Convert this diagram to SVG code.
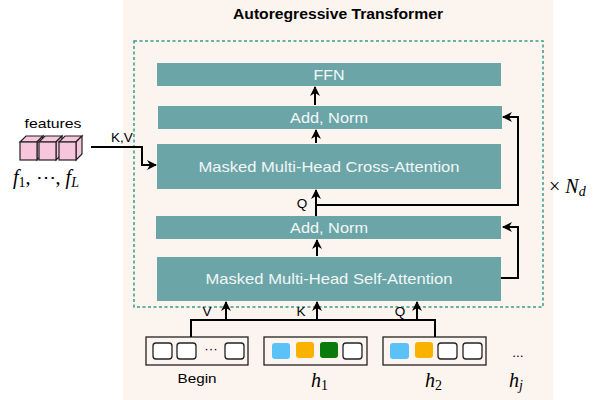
<svg xmlns="http://www.w3.org/2000/svg" width="606" height="400" viewBox="0 0 606 400">
<defs>
<marker id="ah" viewBox="0 0 10 10" refX="9" refY="5" markerWidth="5" markerHeight="5" orient="auto">
<path d="M0,0 L10,5 L0,10 L3,5 Z" fill="#000"/>
</marker>
<style>
.blk{fill:#6ba5a7}
.bt{font-family:"Liberation Sans",Arial,sans-serif;font-size:14.5px;fill:#f2f7f7;text-anchor:middle}
.ln{fill:none;stroke:#000;stroke-width:2}
.lbl{font-family:"Liberation Sans",Arial,sans-serif;font-size:13.5px;fill:#000}
.math{font-family:"Liberation Serif","Times New Roman",serif;font-style:italic;fill:#000}
.tok{fill:none;stroke:#222;stroke-width:1.3}
.sq{fill:#fff;stroke:#222;stroke-width:1.3}
.cube{fill:#f7c6dc;stroke:#222;stroke-width:1.2}
</style>
</defs>
<rect x="0" y="0" width="606" height="400" fill="#fff"/>
<rect x="123" y="0" width="430" height="400" fill="#fcf4ee"/>
<text x="338" y="19" font-family="Liberation Sans,Arial,sans-serif" font-size="14" font-weight="bold" text-anchor="middle" textLength="210" lengthAdjust="spacingAndGlyphs">Autoregressive Transformer</text>
<rect x="134" y="41" width="409" height="266" fill="none" stroke="#3a9a8c" stroke-width="1.5" stroke-dasharray="3,2.5"/>

<g id="ffn"><rect class="blk" x="157" y="63" width="344" height="23"/><text class="bt" x="329" y="80" textLength="31" lengthAdjust="spacingAndGlyphs">FFN</text></g>
<g id="addnorm2"><rect class="blk" x="158" y="106" width="344" height="23"/><text class="bt" x="329" y="123" textLength="78" lengthAdjust="spacingAndGlyphs">Add, Norm</text></g>
<g id="cross"><rect class="blk" x="157" y="144" width="344" height="45"/><text class="bt" x="329" y="172" textLength="261" lengthAdjust="spacingAndGlyphs">Masked Multi-Head Cross-Attention</text></g>
<g id="addnorm1"><rect class="blk" x="156" y="216" width="345" height="23"/><text class="bt" x="329" y="233" textLength="78" lengthAdjust="spacingAndGlyphs">Add, Norm</text></g>
<g id="self"><rect class="blk" x="157" y="257" width="344" height="44"/><text class="bt" x="329" y="284" textLength="247" lengthAdjust="spacingAndGlyphs">Masked Multi-Head Self-Attention</text></g>

<g id="features">
<text class="lbl" x="53" y="128" text-anchor="middle" font-size="14" textLength="57" lengthAdjust="spacingAndGlyphs">features</text>
<g>
<path class="cube" d="M20,142 L26,136 L43,136 L37,142 Z"/>
<path class="cube" d="M37,142 L43,136 L43,154 L37,160 Z"/>
<rect class="cube" x="20" y="142" width="17" height="18"/>
<path class="cube" d="M39,142 L45,136 L62,136 L56,142 Z"/>
<path class="cube" d="M56,142 L62,136 L62,154 L56,160 Z"/>
<rect class="cube" x="39" y="142" width="17" height="18"/>
<path class="cube" d="M59,142 L65,136 L82,136 L76,142 Z"/>
<path class="cube" d="M76,142 L82,136 L82,154 L76,160 Z"/>
<rect class="cube" x="59" y="142" width="17" height="18"/>
</g>
<text class="math" x="13" y="184" font-size="20">f<tspan font-style="normal" font-size="14" dy="3">1</tspan><tspan font-style="normal" dy="-3">, ⋯, </tspan>f<tspan font-size="14" dy="3">L</tspan></text>
</g>

<g id="tokens">
<rect class="tok" x="146" y="337" width="102" height="28"/>
<rect class="sq" x="153" y="343" width="19" height="16" rx="3"/>
<rect class="sq" x="177" y="343" width="19" height="16" rx="3"/>
<text class="lbl" x="211" y="353" text-anchor="middle" font-size="13">···</text>
<rect class="sq" x="225" y="343" width="19" height="16" rx="3"/>
<text class="lbl" x="197" y="383" text-anchor="middle" font-size="14" textLength="39" lengthAdjust="spacingAndGlyphs">Begin</text>

<rect class="tok" x="264" y="337" width="103" height="28"/>
<rect x="272" y="343" width="18" height="16" rx="3" fill="#5bc2f8"/>
<rect x="296" y="342" width="18" height="16" rx="3" fill="#fbb100"/>
<rect x="320" y="342" width="18" height="16" rx="3" fill="#0a7a0a"/>
<rect class="sq" x="343" y="343" width="19" height="16" rx="3"/>
<text class="math" x="311" y="387" font-size="20">h<tspan font-style="normal" font-size="14" dy="3">1</tspan></text>

<rect class="tok" x="383" y="337" width="103" height="28"/>
<rect x="390" y="343" width="19" height="16" rx="3" fill="#5bc2f8"/>
<rect x="415" y="342" width="18" height="16" rx="3" fill="#fbb100"/>
<rect class="sq" x="438" y="343" width="19" height="16" rx="3"/>
<rect class="sq" x="463" y="343" width="19" height="16" rx="3"/>
<text class="math" x="425" y="387" font-size="20">h<tspan font-style="normal" font-size="14" dy="3">2</tspan></text>

<text class="lbl" x="518" y="357" text-anchor="middle" font-size="13">...</text>
<text class="math" x="509" y="387" font-size="20">h<tspan font-size="14" dy="3">j</tspan></text>
</g>

<text class="math" x="549" y="193" font-size="20"><tspan font-style="normal">× </tspan>N<tspan font-size="14" dy="3">d</tspan></text>

<g id="connectors">
<path class="ln" d="M191,337 V320 H435 V337"/>
<line class="ln" x1="226" y1="320" x2="226" y2="302" marker-end="url(#ah)"/>
<line class="ln" x1="317" y1="320" x2="317" y2="302" marker-end="url(#ah)"/>
<line class="ln" x1="417" y1="320" x2="417" y2="302" marker-end="url(#ah)"/>
<text class="lbl" x="207" y="316" text-anchor="middle">V</text>
<text class="lbl" x="301" y="316" text-anchor="middle">K</text>
<text class="lbl" x="400" y="316" text-anchor="middle">Q</text>

<line class="ln" x1="317" y1="256" x2="317" y2="240" marker-end="url(#ah)"/>
<path class="ln" d="M501,278 H518 V227 H503" marker-end="url(#ah)"/>
<line class="ln" x1="316" y1="216" x2="316" y2="190" marker-end="url(#ah)"/>
<path class="ln" d="M316,205 H518 V117 H503" marker-end="url(#ah)"/>
<text class="lbl" x="302" y="208" text-anchor="middle">Q</text>
<line class="ln" x1="316" y1="143" x2="316" y2="130" marker-end="url(#ah)"/>
<line class="ln" x1="315" y1="105" x2="315" y2="87" marker-end="url(#ah)"/>

<path class="ln" d="M91,147 H142 V165 H156" marker-end="url(#ah)"/>
<text class="lbl" x="122" y="142" text-anchor="middle">K,V</text>
</g>
</svg>
